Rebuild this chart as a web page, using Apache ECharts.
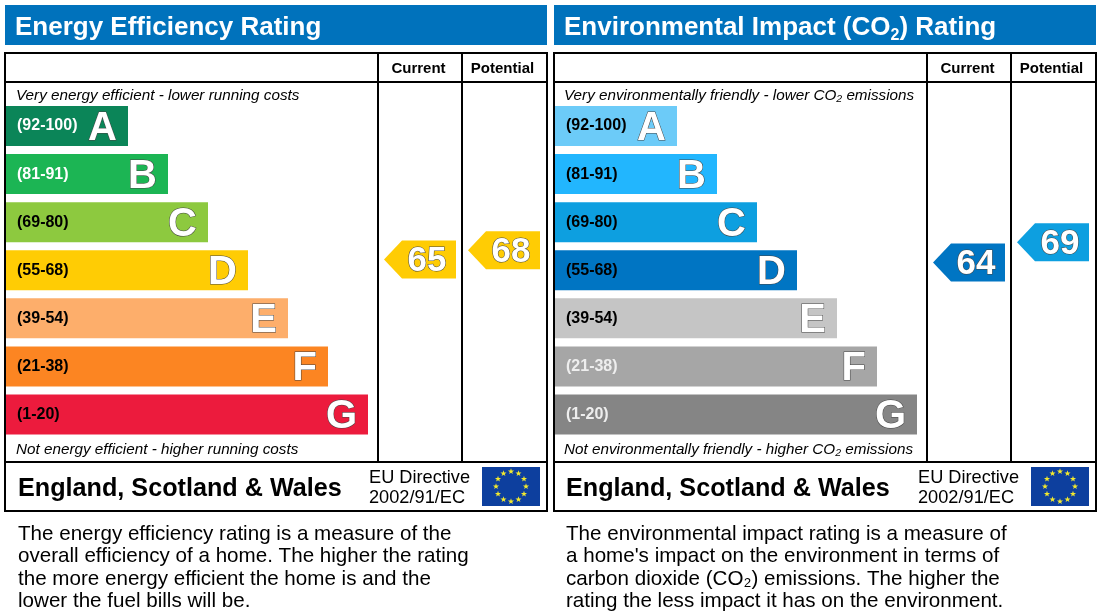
<!DOCTYPE html>
<html>
<head>
    <meta charset="UTF-8">
    <title>Energy Performance</title>
    <style type="text/css">
        html,body{margin:0;padding:0;background:#fff;}
        #main{width:1100px;height:616px;}
    </style>
</head>
<body>
<div id="main"></div>
<script src="https://cdn.jsdelivr.net/npm/echarts@6/dist/echarts.min.js"></script>
<script>
    // bands, best to worst
    var letters = ['A', 'B', 'C', 'D', 'E', 'F', 'G'];
    var bandRanges = ['(92-100)', '(81-91)', '(69-80)', '(55-68)', '(39-54)', '(21-38)', '(1-20)'];
    var bandLow = [92, 81, 69, 55, 39, 21, 1];
    var bandHigh = [100, 91, 80, 68, 54, 38, 20];
    var barLengths = [122, 162, 202, 242, 282, 322, 362];
    var columns = ['Current', 'Potential'];

    var energyColors = ['#0b8558', '#1cb554', '#8dc93f', '#ffcc04', '#fdae6b', '#fc8522', '#ec1b3d'];
    var energyLabelColors = ['#fff', '#fff', '#000', '#000', '#000', '#000', '#000'];
    var energyRatings = [65, 68];

    var impactColors = ['#6ccbf8', '#22b6fe', '#0d9fe0', '#0075c3', '#c5c5c5', '#a6a6a6', '#858585'];
    var impactLabelColors = ['#000', '#000', '#000', '#000', '#000', '#eee', '#eee'];
    var impactRatings = [64, 69];

    var FONT = '"Liberation Sans", Arial, sans-serif';
    var ARROW = 'path://M0,19 L18,0 L72,0 L72,38 L18,38 Z';

    // rating -> position on the 0..7 band axis
    function ratingPos(rating) {
        for (var i = 0; i < bandLow.length; i++) {
            if (rating >= bandLow[i] && rating <= bandHigh[i]) {
                return i + 0.083 + 0.834 * (bandHigh[i] - rating) / (bandHigh[i] - bandLow[i]);
            }
        }
        return 0;
    }

    function ratingColor(rating, colors) {
        for (var i = 0; i < bandLow.length; i++) {
            if (rating >= bandLow[i] && rating <= bandHigh[i]) return colors[i];
        }
    }

    function line(x1, y1, x2, y2) {
        return {type: 'line', shape: {x1: x1, y1: y1, x2: x2, y2: y2}, style: {stroke: '#000', lineWidth: 2}, z: 20};
    }

    function text(x, y, str, font, color, lineHeight) {
        return {
            type: 'text', x: x, y: y, z: 21,
            style: {text: str, font: font, fill: color || '#000', lineHeight: lineHeight, verticalAlign: 'middle'}
        };
    }

    function flag(x, y) {
        var items = [{type: 'rect', shape: {x: x, y: y, width: 58, height: 39}, style: {fill: '#0d3f9e'}, z: 20}];
        for (var k = 0; k < 12; k++) {
            var a = k * Math.PI / 6;
            var cx = x + 29 + 15 * Math.sin(a), cy = y + 19.5 - 15 * Math.cos(a);
            var pts = [];
            for (var p = 0; p < 10; p++) {
                var r = p % 2 ? 1.3 : 3.2, b = p * Math.PI / 5;
                pts.push([cx + r * Math.sin(b), cy - r * Math.cos(b)]);
            }
            items.push({type: 'polygon', shape: {points: pts}, style: {fill: '#f2e92e'}, z: 21});
        }
        return items;
    }

    // frame, captions and footer for one panel
    function panelGraphic(dx, textDx, top, bottom, para) {
        var items = [
            {type: 'rect', shape: {x: 5 + dx, y: 5, width: 542, height: 40}, style: {fill: '#0072bc'}, z: 1},
            line(5 + dx, 53, 547 + dx, 53), line(5 + dx, 82, 547 + dx, 82),
            line(5 + dx, 462, 547 + dx, 462), line(5 + dx, 511, 547 + dx, 511),
            line(5 + dx, 52, 5 + dx, 512), line(547 + dx, 52, 547 + dx, 512),
            line(378 + dx, 53, 378 + dx, 462), line(462 + dx, 53, 462 + dx, 462),
            text(16 + textDx, 96, top, 'italic 15.25px ' + FONT),
            text(16 + textDx, 450, bottom, 'italic 15.25px ' + FONT),
            text(18 + textDx, 489, 'England, Scotland & Wales', 'bold 25.2px ' + FONT),
            text(369 + dx, 488, 'EU Directive\n2002/91/EC', '18.2px ' + FONT, '#000', 20),
            text(18 + textDx, 568, para, '20.6px ' + FONT, '#000', 22.5)
        ];
        return items.concat(flag(482 + dx, 467));
    }

    function barSeries(colors, xIndex) {
        return {
            type: 'bar',
            xAxisIndex: xIndex,
            yAxisIndex: xIndex,
            barWidth: 40,
            silent: true,
            data: barLengths.map(function (v, i) {
                return {value: v, itemStyle: {color: colors[i]}};
            }),
            label: {
                show: true,
                position: 'insideRight',
                distance: 11,
                offset: [0, 3],
                formatter: function (p) { return letters[p.dataIndex]; },
                color: '#fff',
                fontFamily: FONT,
                fontWeight: 'bold',
                fontSize: 40,
                textBorderColor: '#444',
                textBorderWidth: 1
            }
        };
    }

    function arrowSeries(ratings, colors, xIndex) {
        return {
            type: 'scatter',
            xAxisIndex: xIndex,
            yAxisIndex: xIndex,
            symbol: ARROW,
            symbolSize: [72, 38],
            silent: true,
            data: ratings.map(function (r, i) {
                return {value: [columns[i], ratingPos(r)], rating: r, itemStyle: {color: ratingColor(r, colors), opacity: 1}};
            }),
            label: {
                show: true,
                position: 'inside',
                offset: [7, 2],
                formatter: function (p) { return String(p.data.rating); },
                color: '#fff',
                fontFamily: FONT,
                fontWeight: 'bold',
                fontSize: 35,
                textBorderColor: '#444',
                textBorderWidth: 1
            }
        };
    }

    function barY(gridIndex, labelColors) {
        return {
            type: 'category', gridIndex: gridIndex, data: bandRanges, inverse: true, z: 10,
            axisLine: {show: false}, axisTick: {show: false},
            axisLabel: {
                inside: true, margin: 11, fontFamily: FONT, fontWeight: 'bold', fontSize: 16,
                padding: [4, 0, 0, 0],
                color: function (v, i) { return labelColors[i]; }
            }
        };
    }

    function barX(gridIndex) {
        return {type: 'value', gridIndex: gridIndex, min: 0, max: 372, show: false};
    }

    function arrowY(gridIndex) {
        return {type: 'value', gridIndex: gridIndex, min: 0, max: 7, inverse: true, show: false};
    }

    function arrowX(gridIndex) {
        return {
            type: 'category', gridIndex: gridIndex, data: columns, position: 'top',
            axisLine: {show: false}, axisTick: {show: false}, splitLine: {show: false},
            axisLabel: {margin: 26, color: '#000', fontFamily: FONT, fontWeight: 'bold', fontSize: 15, padding: [0, 3, 0, 0]}
        };
    }

    var titleStyle = {color: '#fff', fontFamily: FONT, fontWeight: 'bold', fontSize: 26};

    var myChart = echarts.init(document.getElementById('main'));

    var option = {
        animation: false,
        title: [
            {text: 'Energy Efficiency Rating', left: 15, top: 15, padding: 0, textStyle: titleStyle},
            {
                text: '{a|Environmental Impact (CO}{s|2}{a|) Rating}', left: 564, top: 12, padding: 0,
                textStyle: {
                    color: '#fff',
                    rich: {
                        a: {color: '#fff', fontFamily: FONT, fontWeight: 'bold', fontSize: 26},
                        s: {color: '#fff', fontFamily: FONT, fontWeight: 'bold', fontSize: 16, padding: [16, 0, 0, 0]}
                    }
                }
            }
        ],
        grid: [
            {left: 6, top: 102, width: 372, height: 336.5},
            {left: 378, top: 102, width: 168, height: 336.5},
            {left: 555, top: 102, width: 372, height: 336.5},
            {left: 927, top: 102, width: 168, height: 336.5}
        ],
        xAxis: [barX(0), arrowX(1), barX(2), arrowX(3)],
        yAxis: [barY(0, energyLabelColors), arrowY(1), barY(2, impactLabelColors), arrowY(3)],
        series: [
            barSeries(energyColors, 0),
            arrowSeries(energyRatings, energyColors, 1),
            barSeries(impactColors, 2),
            arrowSeries(impactRatings, impactColors, 3)
        ],
        graphic: panelGraphic(0, 0, 'Very energy efficient - lower running costs', 'Not energy efficient - higher running costs',
            'The energy efficiency rating is a measure of the\noverall efficiency of a home. The higher the rating\nthe more energy efficient the home is and the\nlower the fuel bills will be.')
            .concat(panelGraphic(549, 548, 'Very environmentally friendly - lower CO₂ emissions', 'Not environmentally friendly - higher CO₂ emissions',
            'The environmental impact rating is a measure of\na home\'s impact on the environment in terms of\ncarbon dioxide (CO₂) emissions. The higher the\nrating the less impact it has on the environment.'))
    };

    myChart.setOption(option);
</script>
</body>
</html>
